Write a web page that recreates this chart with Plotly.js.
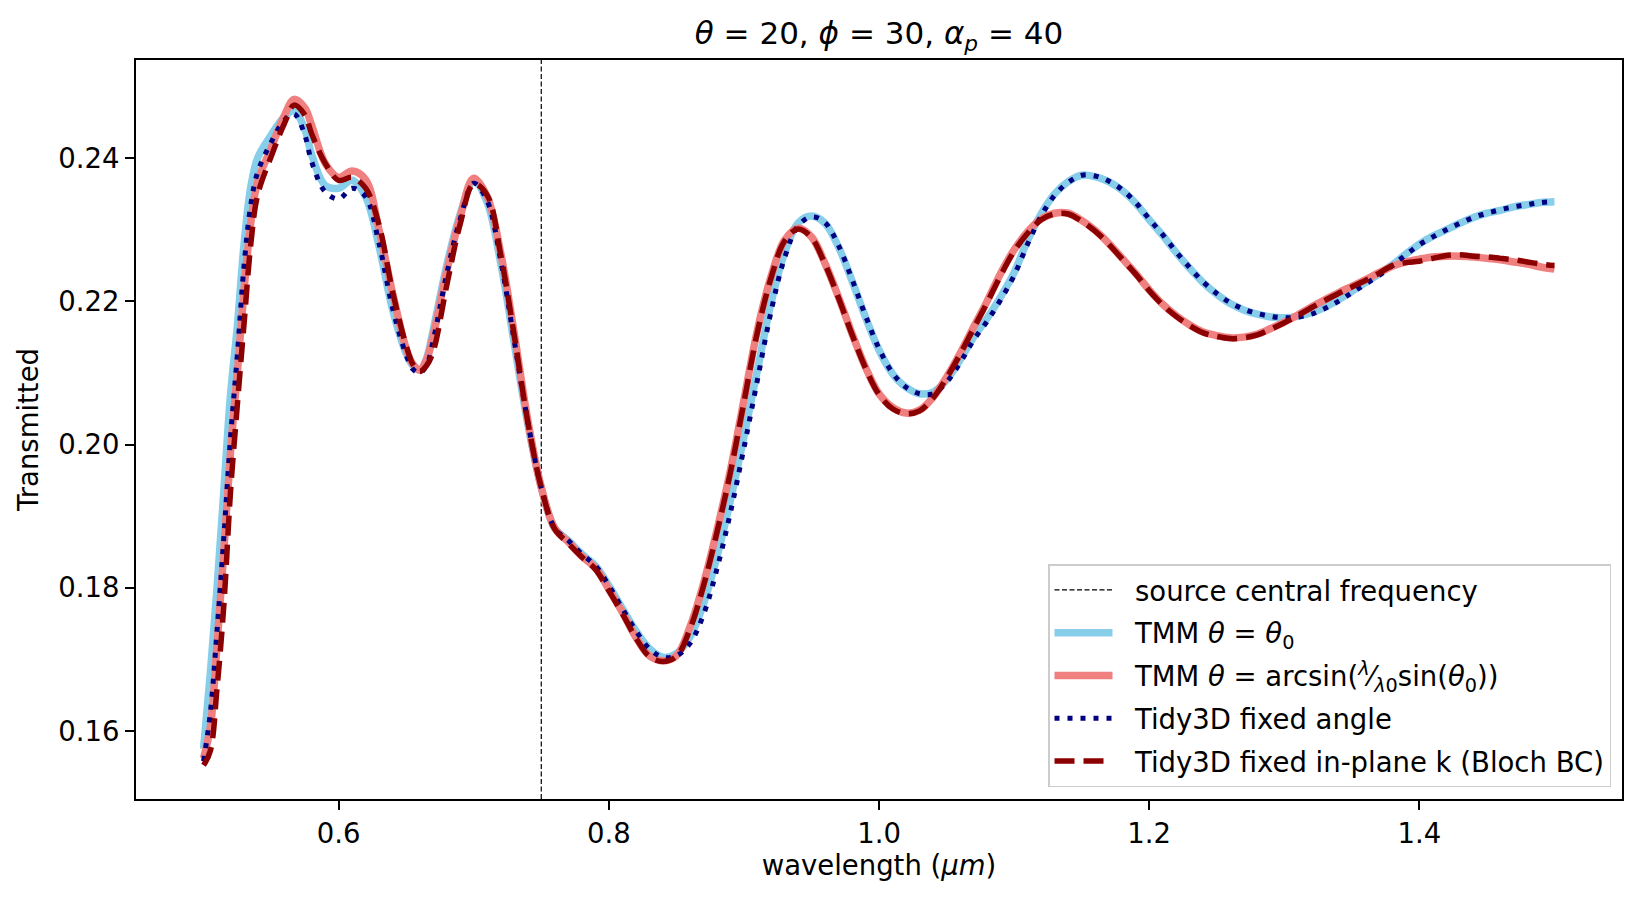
<!DOCTYPE html>
<html>
<head>
<meta charset="utf-8">
<script src="https://cdn.plot.ly/plotly-3.0.1.min.js"></script>
<style>
  html, body { margin: 0; padding: 0; background: #ffffff; }
  #chart { width: 1643px; height: 902px; }
</style>
</head>
<body>
<div id="chart"></div>
<script>
// Wavelength grid (um)
const wavelength = [
  0.500, 0.505, 0.510, 0.515, 0.520, 0.525, 0.530, 0.535, 0.540, 0.550,
  0.560, 0.567, 0.575, 0.580, 0.590, 0.600, 0.610, 0.620, 0.630, 0.640,
  0.650, 0.655, 0.660, 0.665, 0.670, 0.680, 0.690, 0.700, 0.710, 0.720, 0.730, 0.740,
  0.750, 0.760, 0.770, 0.780, 0.790, 0.800, 0.810, 0.820, 0.830, 0.840,
  0.850, 0.860, 0.870, 0.880, 0.890, 0.900, 0.910, 0.920, 0.930, 0.940,
  0.950, 0.960, 0.970, 0.980, 0.990, 1.000, 1.010, 1.020, 1.030, 1.040,
  1.050, 1.060, 1.070, 1.080, 1.090, 1.100, 1.110, 1.120, 1.130, 1.140,
  1.150, 1.160, 1.170, 1.180, 1.190, 1.200, 1.210, 1.220, 1.230, 1.240,
  1.250, 1.260, 1.270, 1.280, 1.290, 1.300, 1.310, 1.320, 1.330, 1.340,
  1.350, 1.360, 1.370, 1.380, 1.390, 1.400, 1.410, 1.420, 1.430, 1.440,
  1.450, 1.460, 1.470, 1.480, 1.490, 1.500
];

// TMM, theta = theta0
const tmmFixedAngle = [
  0.1575, 0.1680, 0.1800, 0.1935, 0.2070, 0.2165, 0.2280, 0.2360, 0.2400, 0.2432,
  0.2458, 0.2466, 0.2440, 0.2405, 0.2362, 0.2358, 0.2369, 0.2346, 0.2276, 0.2188,
  0.2127, 0.2110, 0.2104, 0.2120, 0.2160, 0.2250, 0.2322, 0.2368, 0.2338, 0.2253, 0.2141, 0.2029,
  0.1940, 0.1883, 0.1866, 0.1847, 0.1831, 0.1803, 0.1771, 0.1740, 0.1715, 0.1703,
  0.1708, 0.1731, 0.1777, 0.1843, 0.1922, 0.2011, 0.2104, 0.2197, 0.2267, 0.2309,
  0.2319, 0.2309, 0.2276, 0.2229, 0.2178, 0.2132, 0.2099, 0.2080, 0.2071, 0.2073,
  0.2090, 0.2118, 0.2150, 0.2176, 0.2206, 0.2240, 0.2285, 0.2322, 0.2350, 0.2367,
  0.2376, 0.2374, 0.2367, 0.2355, 0.2337, 0.2314, 0.2292, 0.2268, 0.2246, 0.2226,
  0.2210, 0.2197, 0.2188, 0.2182, 0.2178, 0.2177, 0.2179, 0.2184, 0.2192, 0.2202,
  0.2214, 0.2226, 0.2238, 0.2251, 0.2266, 0.2280, 0.2291, 0.2300, 0.2309, 0.2317,
  0.2323, 0.2327, 0.2332, 0.2335, 0.2338, 0.2339
];

// TMM, theta = arcsin(lambda/lambda0 sin(theta0))
const tmmArcsin = [
  0.1562, 0.1605, 0.1720, 0.1850, 0.1990, 0.2100, 0.2216, 0.2310, 0.2367, 0.2414,
  0.2460, 0.2482, 0.2470, 0.2446, 0.2393, 0.2373, 0.2382, 0.2370, 0.2299, 0.2211,
  0.2134, 0.2112, 0.2104, 0.2118, 0.2152, 0.2242, 0.2318, 0.2372, 0.2346, 0.2267, 0.2155, 0.2034,
  0.1940, 0.1883, 0.1864, 0.1844, 0.1828, 0.1798, 0.1766, 0.1731, 0.1705, 0.1698,
  0.1705, 0.1745, 0.1805, 0.1880, 0.1964, 0.2062, 0.2160, 0.2234, 0.2285, 0.2302,
  0.2290, 0.2253, 0.2206, 0.2155, 0.2108, 0.2071, 0.2052, 0.2044, 0.2048, 0.2066,
  0.2094, 0.2127, 0.2164, 0.2200, 0.2239, 0.2272, 0.2297, 0.2315, 0.2323, 0.2323,
  0.2313, 0.2299, 0.2281, 0.2260, 0.2239, 0.2216, 0.2196, 0.2180, 0.2167, 0.2157,
  0.2152, 0.2149, 0.2150, 0.2154, 0.2162, 0.2171, 0.2181, 0.2192, 0.2202, 0.2212,
  0.2221, 0.2230, 0.2240, 0.2249, 0.2255, 0.2259, 0.2262, 0.2263, 0.2263, 0.2262,
  0.2260, 0.2258, 0.2255, 0.2252, 0.2248, 0.2245
];

// Tidy3D, fixed angle
const tidyFixedAngle = [
  0.1558, 0.1625, 0.1740, 0.1870, 0.2010, 0.2125, 0.2250, 0.2335, 0.2380, 0.2422,
  0.2453, 0.2462, 0.2432, 0.2395, 0.2353, 0.2343, 0.2358, 0.2346, 0.2280, 0.2190,
  0.2125, 0.2105, 0.2100, 0.2110, 0.2145, 0.2238, 0.2315, 0.2365, 0.2340, 0.2257, 0.2145, 0.2032,
  0.1940, 0.1883, 0.1866, 0.1847, 0.1831, 0.1803, 0.1771, 0.1740, 0.1715, 0.1703,
  0.1705, 0.1722, 0.1762, 0.1826, 0.1905, 0.1995, 0.2090, 0.2185, 0.2260, 0.2305,
  0.2318, 0.2310, 0.2278, 0.2231, 0.2180, 0.2134, 0.2100, 0.2080, 0.2071, 0.2071,
  0.2087, 0.2114, 0.2146, 0.2172, 0.2202, 0.2236, 0.2280, 0.2319, 0.2348, 0.2366,
  0.2376, 0.2375, 0.2368, 0.2356, 0.2338, 0.2315, 0.2293, 0.2269, 0.2247, 0.2227,
  0.2211, 0.2198, 0.2189, 0.2183, 0.2179, 0.2177, 0.2178, 0.2182, 0.2190, 0.2200,
  0.2212, 0.2224, 0.2236, 0.2250, 0.2265, 0.2279, 0.2290, 0.2300, 0.2309, 0.2317,
  0.2323, 0.2328, 0.2332, 0.2335, 0.2338, 0.2339
];

// Tidy3D, fixed in-plane k (Bloch BC)
const tidyBloch = [
  0.1552, 0.1572, 0.1660, 0.1775, 0.1935, 0.2055, 0.2169, 0.2280, 0.2348, 0.2402,
  0.2449, 0.2474, 0.2460, 0.2434, 0.2393, 0.2369, 0.2373, 0.2358, 0.2306, 0.2213,
  0.2138, 0.2112, 0.2102, 0.2110, 0.2130, 0.2222, 0.2308, 0.2364, 0.2348, 0.2265, 0.2152, 0.2032,
  0.1940, 0.1882, 0.1862, 0.1843, 0.1826, 0.1796, 0.1764, 0.1730, 0.1704, 0.1697,
  0.1704, 0.1742, 0.1802, 0.1877, 0.1961, 0.2059, 0.2157, 0.2232, 0.2284, 0.2301,
  0.2289, 0.2252, 0.2205, 0.2154, 0.2107, 0.2070, 0.2050, 0.2043, 0.2047, 0.2065,
  0.2093, 0.2126, 0.2162, 0.2198, 0.2236, 0.2270, 0.2295, 0.2314, 0.2322, 0.2322,
  0.2312, 0.2298, 0.2280, 0.2259, 0.2238, 0.2215, 0.2195, 0.2179, 0.2166, 0.2156,
  0.2151, 0.2148, 0.2149, 0.2153, 0.2161, 0.2170, 0.2180, 0.2191, 0.2201, 0.2211,
  0.2220, 0.2229, 0.2239, 0.2250, 0.2254, 0.2256, 0.2260, 0.2264, 0.2265, 0.2263,
  0.2262, 0.2260, 0.2258, 0.2255, 0.2252, 0.2250
];

const sourceCentralWavelength = 0.75;

const xTicks = [0.6, 0.8, 1.0, 1.2, 1.4];
const yTicks = [0.16, 0.18, 0.20, 0.22, 0.24];
const xRange = [0.45, 1.55];
const yRange = [0.1505, 0.2537];

const FONT = 'DejaVu Sans, Liberation Sans, sans-serif';
const GAP = '\u00a0\u00a0'; // small gap between legend sample and its label

function curve(y, name, color, width, dash) {
  return {
    x: wavelength,
    y: y,
    mode: 'lines',
    type: 'scatter',
    name: GAP + name,
    legendgroup: name,
    line: { color: color, width: width, dash: dash, shape: 'spline', smoothing: 1 },
    hoverinfo: 'x+y+name'
  };
}

const traces = [
  {
    x: [sourceCentralWavelength, sourceCentralWavelength],
    y: yRange,
    mode: 'lines',
    type: 'scatter',
    name: GAP + 'source central frequency',
    legendgroup: 'src',
    line: { color: '#000000', width: 1.2, dash: '5px,2.5px' }
  },
  curve(tmmFixedAngle, 'TMM <i>θ</i> = <i>θ</i><sub>0</sub>', '#87ceeb', 7.5, 'solid'),
  curve(tmmArcsin, 'TMM <i>θ</i> = arcsin(<sup><i>λ</i></sup>⁄<sub><i>λ</i>0</sub>sin(<i>θ</i><sub>0</sub>))', '#f08080', 7.5, 'solid'),
  curve(tidyFixedAngle, 'Tidy3D fixed angle', '#000080', 5, '5px,8px'),
  curve(tidyBloch, 'Tidy3D fixed in-plane k (Bloch BC)', '#8b0000', 5.5, '20px,9px')
];

const axisCommon = {
  showgrid: false,
  zeroline: false,
  showline: true,
  mirror: true,
  linecolor: '#000000',
  linewidth: 2,
  ticks: 'outside',
  ticklen: 9,
  tickwidth: 2,
  tickcolor: '#000000',
  tickfont: { family: FONT, size: 27.5, color: '#000000' }
};

const layout = {
  width: 1643,
  height: 902,
  paper_bgcolor: '#ffffff',
  plot_bgcolor: '#ffffff',
  margin: { l: 136, r: 21, t: 60, b: 103 },
  font: { family: FONT, color: '#000000' },
  title: {
    text: '<i>θ</i> = 20, <i>ϕ</i> = 30, <i>α</i><sub><i>p</i></sub> = 40',
    font: { family: FONT, size: 31, color: '#000000' },
    x: 0.5,
    xref: 'paper',
    y: 1,
    yref: 'paper',
    yanchor: 'bottom',
    pad: { b: 16 }
  },
  xaxis: Object.assign({}, axisCommon, {
    range: xRange,
    tickvals: xTicks,
    tickformat: '.1f',
    title: { text: 'wavelength (<i>μm</i>)', font: { family: FONT, size: 27.5, color: '#000000' }, standoff: 8 }
  }),
  yaxis: Object.assign({}, axisCommon, {
    range: yRange,
    tickvals: yTicks,
    tickformat: '.2f',
    title: { text: 'Transmitted', font: { family: FONT, size: 27.5, color: '#000000' }, standoff: 12 }
  }),
  showlegend: true,
  legend: {
    x: 0.9926,
    xanchor: 'right',
    y: 0.0162,
    yanchor: 'bottom',
    bgcolor: 'rgba(255,255,255,0.8)',
    bordercolor: '#cccccc',
    borderwidth: 1.5,
    font: { family: FONT, size: 27.5, color: '#000000' },
    itemwidth: 58,
    tracegroupgap: 4
  }
};

Plotly.newPlot('chart', traces, layout, { displayModeBar: false, staticPlot: true });
</script>
</body>
</html>
